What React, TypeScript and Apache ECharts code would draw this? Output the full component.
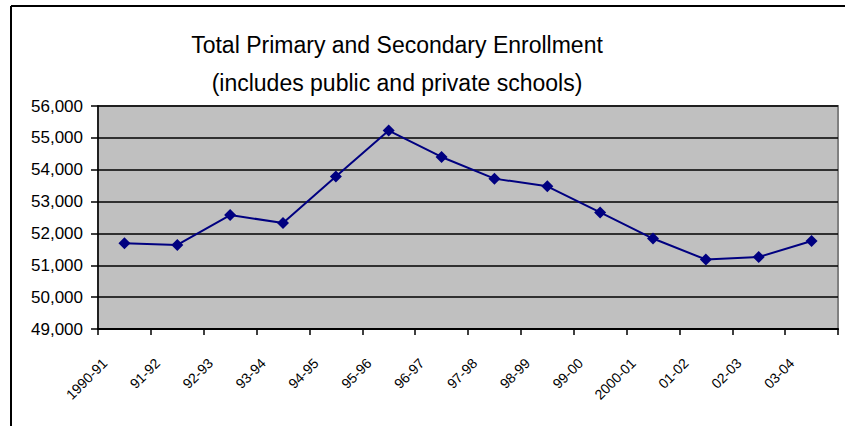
import React, { useEffect, useRef } from "react";
import * as echarts from "echarts";

const categories = [
  "1990-91", "91-92", "92-93", "93-94", "94-95", "95-96", "96-97",
  "97-98", "98-99", "99-00", "2000-01", "01-02", "02-03", "03-04",
];
const enrollment = [
  51690, 51640, 52575, 52330, 53790, 55230, 54400,
  53720, 53480, 52660, 51840, 51180, 51260, 51760,
];
const titleLines = [
  "Total Primary and Secondary Enrollment",
  "(includes public and private schools)",
];
const yMin = 49000;
const yMax = 56000;
const yStep = 1000;

export default function App() {
  const ref = useRef<HTMLDivElement>(null);
  useEffect(() => {
    document.body.style.margin = "0";
    if (!ref.current) return;
    const chart = echarts.init(ref.current, null, { renderer: "svg" });
    const font = "'Liberation Sans', Arial, sans-serif";
    chart.setOption({
      animation: false,
      backgroundColor: "#ffffff",
      title: {
        text: titleLines.join("\n"),
        left: 392,
        top: 21,
        textAlign: "center",
        textStyle: {
          fontFamily: font,
          fontSize: 23,
          fontWeight: "normal",
          color: "#000",
          lineHeight: 38,
        },
      },
      graphic: [
        { type: "line", shape: { x1: 11, y1: 6, x2: 845, y2: 6 }, style: { stroke: "#000", lineWidth: 2 } },
        { type: "line", shape: { x1: 11, y1: 6, x2: 11, y2: 426 }, style: { stroke: "#000", lineWidth: 2 } },
      ],
      grid: {
        left: 98,
        right: 7,
        top: 106,
        bottom: 97,
        show: true,
        backgroundColor: "#C0C0C0",
        borderColor: "#808080",
        borderWidth: 2,
      },
      xAxis: {
        type: "category",
        data: categories,
        boundaryGap: true,
        axisLine: { show: true, lineStyle: { color: "#000", width: 2 } },
        axisTick: { show: true, inside: false, length: 6, interval: 0, lineStyle: { color: "#000", width: 1.5 } },
        axisLabel: {
          interval: 0,
          rotate: 45,
          margin: 12,
          padding: [0, 28, 0, 0],
          fontFamily: font,
          fontSize: 14,
          color: "#000",
        },
        splitLine: { show: false },
      },
      yAxis: {
        type: "value",
        min: yMin,
        max: yMax,
        interval: yStep,
        axisLine: { show: true, lineStyle: { color: "#000", width: 1.5 } },
        axisTick: { show: true, inside: false, length: 7, lineStyle: { color: "#000", width: 1.5 } },
        axisLabel: {
          margin: 15,
          fontFamily: font,
          fontSize: 17,
          color: "#000",
          formatter: (v: number) => v.toLocaleString("en-US"),
        },
        splitLine: { show: true, lineStyle: { color: "#000", width: 1.5 } },
      },
      series: [
        {
          type: "line",
          data: enrollment,
          symbol: "diamond",
          symbolSize: 12,
          color: "#000080",
          lineStyle: { color: "#000080", width: 2 },
          itemStyle: { color: "#000080" },
        },
      ],
    });
    return () => chart.dispose();
  }, []);
  return <div ref={ref} style={{ width: 845, height: 426 }} />;
}
